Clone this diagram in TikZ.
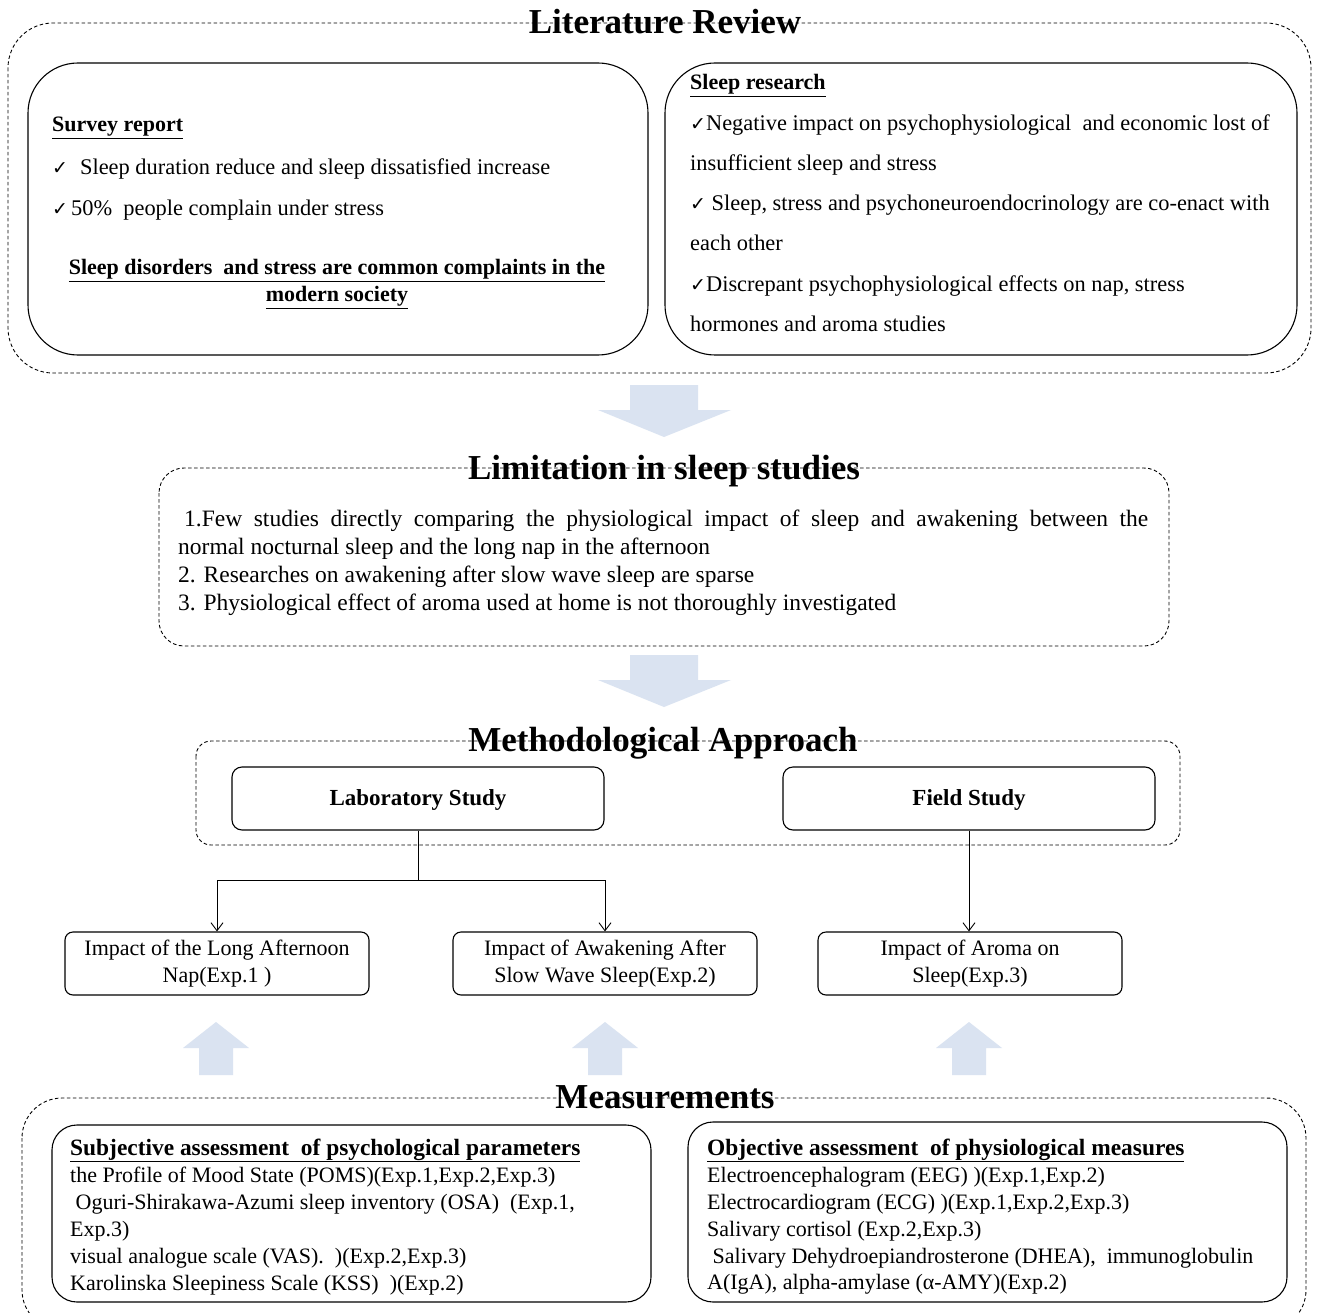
\documentclass[tikz,border=0pt]{standalone}
\usepackage{fontspec}
\setmainfont{Liberation Serif}
\newfontfamily\symfont{DejaVu Sans}
\usetikzlibrary{arrows.meta}
\definecolor{arrowblue}{RGB}{218,227,241}
\newcommand{\chk}{{\symfont\fontsize{19}{19}\selectfont ✓}}
\tikzset{
  x=1pt, y=-1pt,
  dashbox/.style={draw, line width=0.9pt, dash pattern=on 3.5pt off 2.5pt, rounded corners=#1},
  solidbox/.style={draw, line width=1.1pt, rounded corners=#1},
  ttl/.style={font=\fontsize{35}{40}\selectfont\bfseries, inner sep=0pt, anchor=base},
  bodytxt/.style={font=\fontsize{22}{27}\selectfont, inner sep=0pt, anchor=base west},
  littxt/.style={font=\fontsize{22.4}{27}\selectfont, inner sep=0pt, anchor=base west},
  limtxt/.style={font=\fontsize{23.5}{28}\selectfont, inner sep=0pt, anchor=base west},
  boldtxt/.style={font=\fontsize{22}{27}\selectfont\bfseries, inner sep=0pt, anchor=base west},
  headtxt/.style={font=\fontsize{23.4}{27}\selectfont\bfseries, inner sep=0pt, anchor=base west},
  studybox/.style={draw, line width=1.1pt, rounded corners=10pt, minimum width=372pt, minimum height=63pt, text height=16pt, text depth=2pt, font=\fontsize{23}{27}\selectfont\bfseries},
  expbox/.style={draw, line width=1.1pt, rounded corners=8pt, minimum width=304pt, minimum height=63pt, align=center, inner sep=0pt, font=\fontsize{22}{27}\selectfont},
  conn/.style={line width=0.9pt},
  arr/.style={line width=0.9pt, -{Straight Barb[length=8pt,width=12pt]}},
  blockarrow/.style={fill=arrowblue, draw=none}
}
\begin{document}
\begin{tikzpicture}
\useasboundingbox (0,0) rectangle (1319,1313);
\fill[white] (0,0) rectangle (1319,1313);

% ---------- Literature Review ----------
\draw[dashbox=45pt] (8,23) rectangle (1311,373);
\node[ttl] (litt) at (665,34) {Literature Review};
\draw[solidbox=50pt] (28,63) rectangle (648,355);
\draw[solidbox=50pt] (665,63) rectangle (1297,355);

\node[boldtxt] (sv0) at (52,132) {\underline{Survey report}};
\node[littxt] (sv1) at (52,175) {\chk\hspace{12pt}Sleep duration reduce and sleep dissatisfied increase};
\node[littxt] (sv2) at (52,216) {\chk\hspace{3pt}50\%\ \ people complain under stress};
\node[boldtxt, anchor=base] (sv3) at (337,275) {\underline{Sleep disorders\ \ and stress are common complaints in the}};
\node[boldtxt, anchor=base] (sv4) at (337,302) {\underline{modern society}};

\node[boldtxt] (sr0) at (690,90) {\underline{Sleep research}};
\node[littxt] (sr1) at (690,131) {\chk Negative impact on psychophysiological\ \ and economic lost of};
\node[littxt] (sr2) at (690,171) {insufficient sleep and stress};
\node[littxt] (sr3) at (690,211) {\chk\ Sleep, stress and psychoneuroendocrinology are co-enact with};
\node[littxt] (sr4) at (690,251) {each other};
\node[littxt] (sr5) at (690,292) {\chk Discrepant psychophysiological effects on nap, stress};
\node[littxt] (sr6) at (690,332) {hormones and aroma studies};

% block arrow 1
\fill[blockarrow] (630,385) -- (698,385) -- (698,410) -- (731,410) -- (664,437) -- (598,410) -- (630,410) -- cycle;

% ---------- Limitation ----------
\draw[dashbox=25pt] (159,468) rectangle (1169,646);
\node[ttl] (limt) at (664,479) {Limitation in sleep studies};
\node[limtxt] (lm1) at (178,526) {\makebox[970pt][s]{\hspace*{6pt}1.Few studies directly comparing the physiological impact of sleep and awakening between the}};
\node[limtxt] (lm2) at (178,554) {normal nocturnal sleep and the long nap in the afternoon};
\node[limtxt] (lm3) at (178,582) {2. Researches\ on awakening after slow wave sleep are sparse};
\node[limtxt] (lm4) at (178,610) {3. Physiological effect of aroma used at home is not thoroughly investigated};

% block arrow 2
\fill[blockarrow] (630,655) -- (698,655) -- (698,680) -- (731,680) -- (664,707) -- (598,680) -- (630,680) -- cycle;

% ---------- Methodological Approach ----------
\draw[dashbox=15pt] (196,741) rectangle (1180,845);
\node[ttl] (mett) at (663,751) {Methodological Approach};
\node[studybox] (lab) at (418,798.5) {Laboratory Study};
\node[studybox] (field) at (969,798.5) {Field Study};

\node[expbox] (exp1) at (217,963.5) {Impact of the Long Afternoon\\Nap(Exp.1 )};
\node[expbox] (exp2) at (605,963.5) {Impact of Awakening After\\Slow Wave Sleep(Exp.2)};
\node[expbox] (exp3) at (970,963.5) {Impact of Aroma on\\Sleep(Exp.3)};

\coordinate (lj) at (418,880);
\draw[conn] (lab.south) -- (lj);
\draw[arr] (lj) -| (exp1.north);
\draw[arr] (lj) -| (exp2.north);
\draw[arr] (field.south) -- (field.south |- exp3.north);

% up arrows
\foreach \cx in {216,605,969}{
  \fill[blockarrow] (\cx-17,1075) -- (\cx+17,1075) -- (\cx+17,1048) -- (\cx+33,1048) -- (\cx,1022) -- (\cx-33,1048) -- (\cx-17,1048) -- cycle;
}

% ---------- Measurements ----------
\draw[dashbox=40pt] (22,1098) rectangle (1306,1330);
\node[ttl] (meat) at (665,1108) {Measurements};
\draw[solidbox=25pt] (52,1125) rectangle (651,1302);
\draw[solidbox=25pt] (688,1122) rectangle (1287,1302);

\node[headtxt] (sb0) at (70,1155) {\underline{Subjective assessment\ \ of psychological parameters}};
\node[bodytxt] (sb1) at (70,1182) {the Profile of Mood State (POMS)(Exp.1,Exp.2,Exp.3)};
\node[bodytxt] (sb2) at (70,1209) {\ Oguri-Shirakawa-Azumi sleep inventory (OSA)\ \ (Exp.1,};
\node[bodytxt] (sb3) at (70,1236) {Exp.3)};
\node[bodytxt] (sb4) at (70,1263) {visual analogue scale (VAS).\ \ )(Exp.2,Exp.3)};
\node[bodytxt] (sb5) at (70,1290) {Karolinska Sleepiness Scale (KSS)\ \ )(Exp.2)};

\node[headtxt] (ob0) at (707,1155) {\underline{Objective assessment\ \ of physiological measures}};
\node[bodytxt] (ob1) at (707,1182) {Electroencephalogram (EEG) )(Exp.1,Exp.2)};
\node[bodytxt] (ob2) at (707,1209) {Electrocardiogram (ECG) )(Exp.1,Exp.2,Exp.3)};
\node[bodytxt] (ob3) at (707,1236) {Salivary cortisol (Exp.2,Exp.3)};
\node[bodytxt] (ob4) at (707,1263) {\ Salivary Dehydroepiandrosterone (DHEA),\ \ immunoglobulin};
\node[bodytxt] (ob5) at (707,1289) {A(IgA), alpha-amylase (α-AMY)(Exp.2)};
\end{tikzpicture}
\end{document}
